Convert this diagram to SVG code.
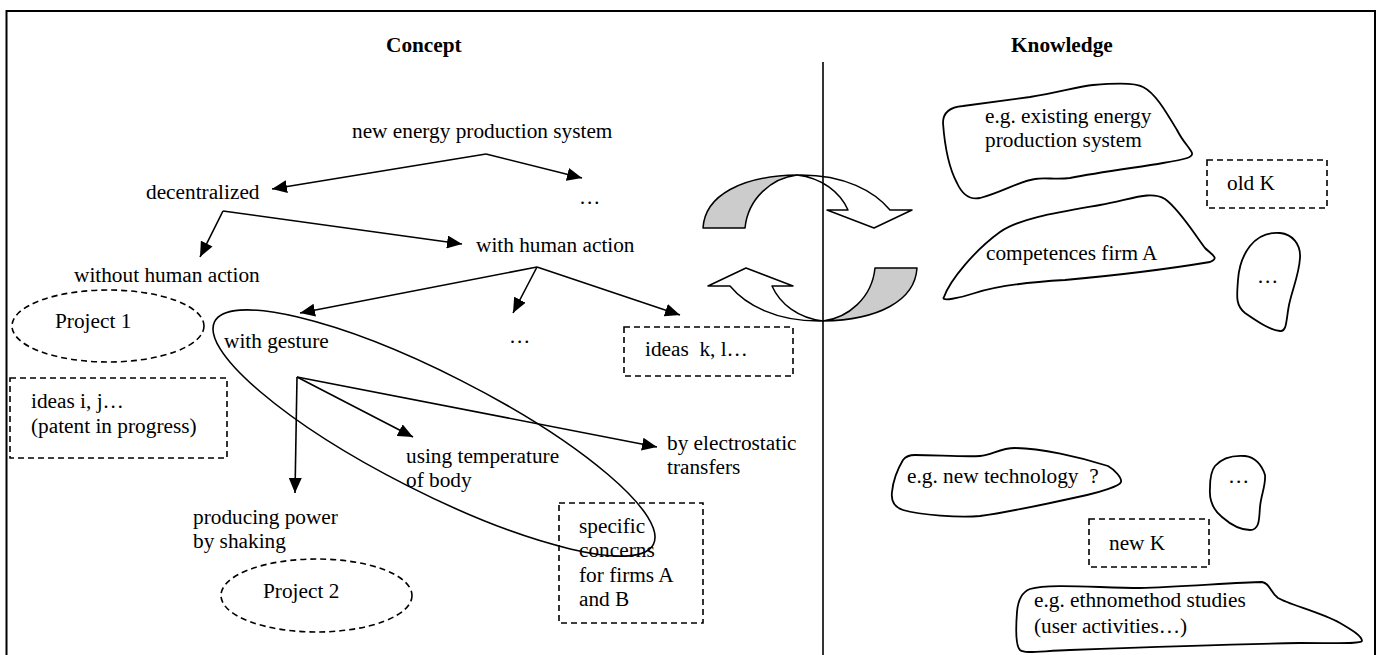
<svg xmlns="http://www.w3.org/2000/svg" width="1382" height="655" viewBox="0 0 1382 655">
<defs>
<style>
text{font-family:"Liberation Serif","Times New Roman",serif;font-size:21.3px;fill:#000;white-space:pre}
.b{font-weight:bold}
.ln{fill:none;stroke:#000;stroke-width:1.6}
.con{fill:none;stroke:#000;stroke-width:1.6;marker-end:url(#ah)}
.dash{fill:none;stroke:#000;stroke-width:1.6;stroke-dasharray:6 4}
.blob{fill:none;stroke:#000;stroke-width:1.8}
.sh{fill:#cccccc;stroke:#000;stroke-width:1.5;stroke-linejoin:round}
.wh{fill:#fff;stroke:#000;stroke-width:1.5;stroke-linejoin:round}
</style>
<marker id="ah" markerUnits="userSpaceOnUse" markerWidth="16" markerHeight="13" refX="15" refY="6.5" orient="auto" viewBox="0 0 16 13">
<path d="M0,0 L15,6.5 L0,13 Z" fill="#000"/>
</marker>
<g id="curvedArrow">
<path class="sh" d="M703,228 C705,195 742,176 797,175 C772,178 748,198 745,228 Z"/>
<path class="wh" d="M797,175 C845,174 875,192 890,210 L912,210 L874,228 L827,210 L848,210 C840,192 822,178 797,175 Z"/>
</g>
</defs>

<rect x="6.5" y="11" width="1368.5" height="660" fill="none" stroke="#000" stroke-width="2"/>

<g id="headers">
<text class="b" x="386" y="52">Concept</text>
<text class="b" x="1011" y="52">Knowledge</text>
</g>

<g id="cycle-arrows">
<use href="#curvedArrow"/>
<use href="#curvedArrow" transform="rotate(180 810 248)"/>
</g>

<line id="divider" class="ln" x1="823" y1="62" x2="823" y2="660"/>

<g id="connectors">
<line class="con" x1="486" y1="154" x2="272" y2="189"/>
<line class="con" x1="486" y1="154" x2="582" y2="178"/>
<line class="con" x1="223" y1="211" x2="200" y2="257"/>
<line class="con" x1="223" y1="211" x2="462" y2="244"/>
<line class="con" x1="537" y1="267" x2="300" y2="313"/>
<line class="con" x1="537" y1="267" x2="513" y2="313"/>
<line class="con" x1="537" y1="267" x2="680" y2="315"/>
<line class="con" x1="297" y1="377" x2="295" y2="493"/>
<line class="con" x1="297" y1="377" x2="413" y2="437"/>
<line class="con" x1="297" y1="377" x2="657" y2="447"/>
</g>

<g id="n-root"><text x="352" y="138">new energy production system</text></g>
<g id="n-dots1"><text x="579" y="204">…</text></g>
<g id="n-decentralized"><text x="146" y="199">decentralized</text></g>
<g id="n-with-human"><text x="476" y="252">with human action</text></g>
<g id="n-without-human"><text x="74" y="282">without human action</text></g>
<g id="n-project1">
<ellipse class="dash" cx="108" cy="326" rx="96" ry="36"/>
<text x="55" y="328">Project 1</text>
</g>
<g id="n-ideas-ij">
<rect class="dash" x="10" y="378" width="217" height="80"/>
<text x="31" y="408">ideas i, j…</text>
<text x="31" y="433">(patent in progress)</text>
</g>
<g id="n-gesture-group">
<ellipse class="ln" cx="434" cy="433" rx="246" ry="59" transform="rotate(26.9 434 433)"/>
</g>
<g id="n-with-gesture"><text x="224" y="348">with gesture</text></g>
<g id="n-dots2"><text x="509" y="343">…</text></g>
<g id="n-ideas-kl">
<rect class="dash" x="624" y="327" width="169" height="49"/>
<text x="645" y="356">ideas  k, l…</text>
</g>
<g id="n-temperature">
<text x="406" y="463">using temperature</text>
<text x="406" y="487">of body</text>
</g>
<g id="n-electrostatic">
<text x="667" y="450">by electrostatic</text>
<text x="667" y="474">transfers</text>
</g>
<g id="n-shaking">
<text x="193" y="524">producing power</text>
<text x="193" y="548">by shaking</text>
</g>
<g id="n-project2">
<ellipse class="dash" cx="316.5" cy="595.5" rx="95.5" ry="36.5"/>
<text x="263" y="598">Project 2</text>
</g>
<g id="n-specific">
<rect class="dash" x="559" y="503" width="144" height="120"/>
<text x="579" y="533">specific</text>
<text x="579" y="557">concerns</text>
<text x="579" y="582">for firms A</text>
<text x="579" y="606">and B</text>
</g>

<g id="k-existing">
<path class="blob" d="M943,123 C943,112 950,107 963,106 L1030,97 C1060,92 1080,86 1093,85 C1115,83 1135,82 1143,87 C1155,93 1165,110 1177,130 C1183,142 1190,148 1192,153 C1193,157 1188,159 1163,163 C1140,167 1100,172 1070,178 C1055,180 1045,177 1035,179 C1020,181 1000,193 980,198 C970,200 962,194 957,183 C950,170 945,150 943,123 Z"/>
<text x="985" y="123">e.g. existing energy</text>
<text x="985" y="147">production system</text>
</g>
<g id="k-oldK">
<rect class="dash" x="1207" y="160" width="120" height="48"/>
<text x="1227" y="190">old K</text>
</g>
<g id="k-competences">
<path class="blob" d="M944,297 C950,280 975,250 1000,232 C1020,218 1060,212 1100,205 C1130,200 1150,190 1165,199 C1180,210 1195,235 1205,248 C1212,255 1220,258 1210,262 C1180,267 1120,275 1065,280 C1030,282 1000,285 975,293 C960,298 940,302 944,297 Z"/>
<text x="986" y="260">competences firm A</text>
</g>
<g id="k-dots1">
<path class="blob" d="M1250,246 C1258,236 1268,232 1280,233 C1292,234 1301,244 1300,258 C1299,275 1292,290 1289,305 C1286,320 1287,332 1280,331 C1270,330 1258,322 1245,313 C1235,305 1237,295 1238,280 C1239,265 1243,255 1250,246 Z"/>
<text x="1257" y="283">…</text>
</g>
<g id="k-newtech">
<path class="blob" d="M903,460 C906,456 910,455 915,455 C935,455 965,457 980,456 C992,455 1000,448 1015,448 C1040,448 1080,457 1108,466 C1115,470 1122,478 1121,482 C1120,486 1100,492 1087,495 C1060,501 1010,512 980,516 C960,518 920,515 903,510 C893,507 891,500 892,492 C893,482 897,470 903,460 Z"/>
<text x="907" y="483">e.g. new technology  ?</text>
</g>
<g id="k-dots2">
<path class="blob" d="M1215,466 C1222,458 1232,455 1245,456 C1255,457 1262,465 1265,475 C1266,485 1261,495 1260,507 C1259,518 1260,530 1250,530 C1240,530 1230,524 1222,517 C1212,509 1209,500 1210,488 C1210,478 1211,471 1215,466 Z"/>
<text x="1228" y="483">…</text>
</g>
<g id="k-newK">
<rect class="dash" x="1089" y="519" width="120" height="48"/>
<text x="1109" y="550">new K</text>
</g>
<g id="k-ethno">
<path class="blob" d="M1017,612 C1018,600 1022,592 1030,589 C1050,583 1100,588 1140,588 C1180,587 1240,582 1262,582 C1270,583 1270,592 1278,598 C1290,605 1320,612 1340,623 C1352,630 1362,636 1362,641 C1360,644 1340,643 1300,643 C1240,644 1150,647 1070,650 C1040,651 1025,654 1020,650 C1015,645 1016,625 1017,612 Z"/>
<text x="1034" y="607">e.g. ethnomethod studies</text>
<text x="1034" y="633">(user activities…)</text>
</g>
</svg>
